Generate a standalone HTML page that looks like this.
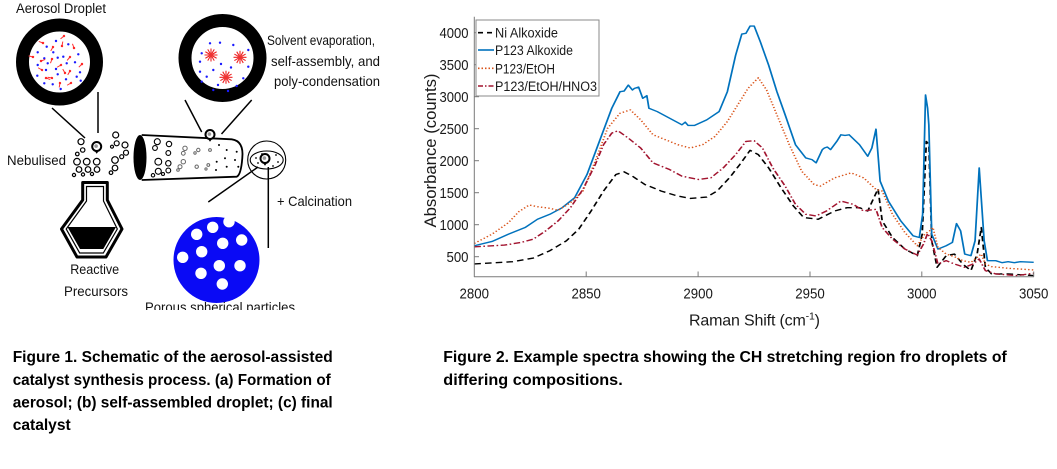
<!DOCTYPE html>
<html>
<head>
<meta charset="utf-8">
<style>
html,body{margin:0;padding:0;background:#fff;}
svg{display:block;}
text{font-family:"Liberation Sans",Arial,sans-serif;}
</style>
</head>
<body>
<svg width="1057" height="469" viewBox="0 0 1057 469" xmlns="http://www.w3.org/2000/svg">
<defs>
  <clipPath id="leftclip"><rect x="0" y="0" width="420" height="310"/></clipPath>
  <clipPath id="plotclip"><rect x="474" y="15" width="562" height="262"/></clipPath>
  <g id="burst">
    <path d="M2,0L6.5,0 M1.73,1L5.63,3.25 M1,1.73L3.25,5.63 M0,2L0,6.5 M-1,1.73L-3.25,5.63 M-1.73,1L-5.63,3.25 M-2,0L-6.5,0 M-1.73,-1L-5.63,-3.25 M-1,-1.73L-3.25,-5.63 M0,-2L0,-6.5 M1,-1.73L3.25,-5.63 M1.73,-1L5.63,-3.25" stroke="#ee2222" stroke-width="1.1" fill="none"/>
    <circle r="2.2" fill="#ee3333"/>
  </g>
  <g id="pin">
    <path d="M-2.6,3.6 L0,7.2 L2.6,3.6 Z" fill="#000"/>
    <circle r="4.5" fill="#fff" stroke="#000" stroke-width="2"/>
    <circle cx="-0.6" cy="-0.4" r="1.8" fill="#999"/>
  </g>
  <g id="tad">
    <line x1="0" y1="0" x2="-4.5" y2="0" stroke="#ff3030" stroke-width="1"/>
    <circle r="1.2" fill="#ff2020"/>
  </g>
</defs>

<rect width="1057" height="469" fill="#fff"/>

<!-- ================= LEFT SCHEMATIC ================= -->
<g clip-path="url(#leftclip)">
  <text x="16" y="13" font-size="13.5" textLength="90" lengthAdjust="spacingAndGlyphs" fill="#111">Aerosol Droplet</text>

  <circle cx="59.5" cy="62" r="37" fill="#fff" stroke="#000" stroke-width="13"/>
  <g fill="#1a1aff">
    <circle cx="56" cy="41" r="1.2"/><circle cx="46.7" cy="46.7" r="1.2"/><circle cx="68.3" cy="44.3" r="1.2"/>
    <circle cx="37.7" cy="52.3" r="1.2"/><circle cx="53.3" cy="52.3" r="1.2"/><circle cx="63.3" cy="56.7" r="1.2"/>
    <circle cx="78.3" cy="54.3" r="1.2"/><circle cx="44.3" cy="58.3" r="1.2"/><circle cx="57.7" cy="57.7" r="1.2"/>
    <circle cx="75" cy="62.3" r="1.2"/><circle cx="37.7" cy="65" r="1.2"/><circle cx="47.7" cy="63.3" r="1.2"/>
    <circle cx="66.7" cy="63.3" r="1.2"/><circle cx="80" cy="72.3" r="1.2"/><circle cx="56" cy="69" r="1.2"/>
    <circle cx="37.3" cy="75.7" r="1.2"/><circle cx="46" cy="70" r="1.2"/><circle cx="57.7" cy="74.3" r="1.2"/>
    <circle cx="66" cy="79.3" r="1.2"/><circle cx="76.7" cy="76.7" r="1.2"/><circle cx="44.3" cy="83.3" r="1.2"/>
    <circle cx="52.7" cy="84.3" r="1.2"/><circle cx="60.7" cy="89" r="1.2"/><circle cx="80.7" cy="80.7" r="1.2"/>
  </g>
  <use href="#tad" transform="translate(64,36) rotate(-40)"/>
  <use href="#tad" transform="translate(43,43) rotate(20)"/>
  <use href="#tad" transform="translate(53,47) rotate(-60)"/>
  <use href="#tad" transform="translate(62,46) rotate(100)"/>
  <use href="#tad" transform="translate(74,48) rotate(70)"/>
  <use href="#tad" transform="translate(82,64) rotate(-45)"/>
  <use href="#tad" transform="translate(33,57) rotate(15)"/>
  <use href="#tad" transform="translate(41,61) rotate(160)"/>
  <use href="#tad" transform="translate(52,59) rotate(-70)"/>
  <use href="#tad" transform="translate(61,65) rotate(-30)"/>
  <use href="#tad" transform="translate(70,57) rotate(-50)"/>
  <use href="#tad" transform="translate(42,70) rotate(30)"/>
  <use href="#tad" transform="translate(52,78) rotate(10)"/>
  <use href="#tad" transform="translate(70,71) rotate(-60)"/>
  <use href="#tad" transform="translate(60,83) rotate(-80)"/>
  <use href="#tad" transform="translate(71,83) rotate(-30)"/>
  <use href="#tad" transform="translate(46,78) rotate(200)"/>
  <use href="#tad" transform="translate(65,73) rotate(60)"/>

  <line x1="52" y1="108" x2="85" y2="138" stroke="#000" stroke-width="1.5"/>
  <line x1="98" y1="92" x2="98" y2="133" stroke="#000" stroke-width="1.5"/>
  <use href="#pin" transform="translate(96.7,146.5)"/>

  <g fill="none" stroke="#000" stroke-width="1.2">
    <circle cx="81" cy="141.7" r="3"/><circle cx="82.7" cy="150" r="2.2"/><circle cx="77.3" cy="154" r="1.8"/>
    <circle cx="77" cy="161.7" r="3.3"/><circle cx="86.7" cy="161.7" r="3.3"/><circle cx="96.7" cy="161.7" r="3.3"/>
    <circle cx="79" cy="169.5" r="2.8"/><circle cx="88" cy="169.5" r="2.8"/><circle cx="97" cy="169.5" r="2.8"/>
    <circle cx="74" cy="175" r="1.6"/><circle cx="83" cy="174.5" r="1.6"/><circle cx="92" cy="174" r="1.6"/>
    <circle cx="115.7" cy="135" r="3"/><circle cx="116.7" cy="143.3" r="2.5"/><circle cx="112" cy="146.7" r="1.5"/>
    <circle cx="125" cy="145" r="3"/><circle cx="126" cy="152.7" r="2.5"/><circle cx="121.7" cy="156.7" r="2"/>
    <circle cx="115" cy="160" r="3.3"/><circle cx="115" cy="168" r="2.8"/><circle cx="111" cy="172.7" r="1.8"/>
  </g>
  <text x="7" y="165" font-size="13.5" textLength="59" lengthAdjust="spacingAndGlyphs" fill="#111">Nebulised</text>

  <path d="M82.7,182.5 L107.3,182.5 L107.3,200 L122,229 L106,257 L77,257 L61.5,229 L82.7,200 Z" fill="#fff" stroke="#000" stroke-width="3" stroke-linejoin="round"/>
  <path d="M86.5,186.5 L103.5,186.5 L103.5,201 L117.3,229 L103.3,253 L79.7,253 L66.2,229 L86.5,201 Z" fill="none" stroke="#000" stroke-width="1.2"/>
  <path d="M67.5,227 L116,227 L103.3,249 L80,249 Z" fill="#000"/>
  <text x="94.7" y="274" font-size="14" text-anchor="middle" textLength="49" lengthAdjust="spacingAndGlyphs" fill="#111">Reactive</text>
  <text x="96" y="296" font-size="14" text-anchor="middle" textLength="64" lengthAdjust="spacingAndGlyphs" fill="#111">Precursors</text>

  <path d="M141.7,135 L231.7,139.3 Q244,141 242.3,158 Q241,175 236.7,176.7 L141.7,180" fill="#fff" stroke="#000" stroke-width="1.8"/>
  <ellipse cx="140" cy="157.5" rx="6.5" ry="22.5" fill="#000"/>
  <g fill="none" stroke="#000" stroke-width="1.1">
    <circle cx="157.3" cy="141.7" r="3"/><circle cx="155" cy="148" r="2.4"/><circle cx="169" cy="144" r="2.7"/>
    <circle cx="168.3" cy="153" r="2.4"/><circle cx="158.3" cy="161.7" r="3.4"/><circle cx="158.3" cy="171.3" r="3"/>
    <circle cx="153" cy="175.3" r="1.7"/><circle cx="168.3" cy="163.3" r="2.7"/><circle cx="168.3" cy="170.5" r="2.4"/>
    <circle cx="163" cy="174" r="1.5"/>
  </g>
  <g fill="none" stroke="#666" stroke-width="1">
    <circle cx="185" cy="148.3" r="2.2"/><circle cx="183.3" cy="153.3" r="1.9"/><circle cx="183.3" cy="161.7" r="2.2"/>
    <circle cx="180" cy="166.7" r="2"/><circle cx="178" cy="170" r="1.3"/><circle cx="198.3" cy="150" r="1.7"/>
    <circle cx="196.7" cy="166.7" r="1.7"/><circle cx="195" cy="153" r="1.2"/><circle cx="210" cy="150" r="1.4"/>
    <circle cx="208.3" cy="165" r="1.4"/><circle cx="206" cy="169" r="1.1"/>
  </g>
  <g fill="#000">
    <circle cx="226.7" cy="150" r="1"/><circle cx="236.7" cy="151.7" r="1"/><circle cx="225" cy="158.3" r="1"/>
    <circle cx="235" cy="160" r="1"/><circle cx="226.7" cy="166.7" r="1"/><circle cx="238.3" cy="166.7" r="1"/>
    <circle cx="216.7" cy="161.7" r="1"/><circle cx="216" cy="170" r="1"/><circle cx="219" cy="145" r="1"/>
  </g>
  <line x1="185" y1="100" x2="201.7" y2="132" stroke="#000" stroke-width="1.5"/>
  <line x1="251.7" y1="100" x2="221.5" y2="134" stroke="#000" stroke-width="1.5"/>
  <use href="#pin" transform="translate(210,134.5)"/>

  <circle cx="222.5" cy="58" r="37.5" fill="#fff" stroke="#000" stroke-width="13"/>
  <g fill="#1a1aff">
    <circle cx="210" cy="43.3" r="1.2"/><circle cx="220" cy="42.7" r="1.2"/><circle cx="233.3" cy="45" r="1.2"/>
    <circle cx="201.7" cy="53.3" r="1.2"/><circle cx="200" cy="61.7" r="1.2"/><circle cx="221" cy="64" r="1.2"/>
    <circle cx="248.3" cy="50" r="1.2"/><circle cx="213.3" cy="70" r="1.2"/><circle cx="231" cy="67.5" r="1.2"/>
    <circle cx="206.7" cy="76.7" r="1.2"/><circle cx="201.7" cy="81.7" r="1.2"/><circle cx="218" cy="85" r="1.2"/>
    <circle cx="236.7" cy="86" r="1.2"/><circle cx="243.3" cy="78.3" r="1.2"/><circle cx="248.3" cy="66.7" r="1.2"/>
    <circle cx="213.3" cy="90" r="1.2"/><circle cx="200" cy="71.7" r="1.2"/><circle cx="228" cy="91" r="1.2"/>
  </g>
  <use href="#burst" transform="translate(211,55)"/>
  <use href="#burst" transform="translate(240,57.3)"/>
  <use href="#burst" transform="translate(226,77.3)"/>

  <text x="267" y="45" font-size="14" textLength="108" lengthAdjust="spacingAndGlyphs" fill="#111">Solvent evaporation,</text>
  <text x="271" y="66" font-size="14" textLength="109" lengthAdjust="spacingAndGlyphs" fill="#111">self-assembly, and</text>
  <text x="274" y="86" font-size="14" textLength="106" lengthAdjust="spacingAndGlyphs" fill="#111">poly-condensation</text>

  <circle cx="266.7" cy="160" r="19" fill="#fff" stroke="#000" stroke-width="1.1"/>
  <ellipse cx="266.7" cy="160" rx="16.5" ry="9" fill="none" stroke="#000" stroke-width="1.1"/>
  <g fill="#000">
    <circle cx="256" cy="158" r="0.9"/><circle cx="258" cy="163" r="0.9"/><circle cx="276" cy="155" r="0.9"/>
    <circle cx="278" cy="162" r="0.9"/><circle cx="273" cy="166" r="0.9"/><circle cx="262" cy="154" r="0.9"/>
  </g>
  <use href="#pin" transform="translate(265,158.5)"/>
  <line x1="208.3" y1="202" x2="258" y2="167" stroke="#000" stroke-width="1.5"/>
  <line x1="268.3" y1="167" x2="268.3" y2="248" stroke="#000" stroke-width="1.5"/>
  <text x="277" y="206" font-size="14" textLength="75" lengthAdjust="spacingAndGlyphs" fill="#111">+ Calcination</text>

  <circle cx="216.5" cy="260" r="43" fill="#0a0af5"/>
  <g fill="#fff">
    <circle cx="229" cy="221.7" r="5.7"/><circle cx="212.7" cy="227.3" r="5.7"/><circle cx="196.7" cy="234.3" r="5.7"/>
    <circle cx="241.7" cy="240" r="5.7"/><circle cx="222.7" cy="243.3" r="5.7"/><circle cx="201.7" cy="251.7" r="5.7"/>
    <circle cx="182.7" cy="257.3" r="5.7"/><circle cx="240" cy="265.7" r="5.7"/><circle cx="219.3" cy="265.7" r="5.7"/>
    <circle cx="201" cy="273.3" r="5.7"/><circle cx="222.3" cy="284" r="5.7"/>
  </g>
  <text x="145" y="312" font-size="14" textLength="150" lengthAdjust="spacingAndGlyphs" fill="#111">Porous spherical particles</text>
</g>

<!-- ================= CHART ================= -->
<g clip-path="url(#plotclip)">
  <g transform="matrix(0.41284 0 0 0.33136 409.48 2.215)" fill="none" stroke-linejoin="round">
    <path stroke="#000" stroke-width="4.2" stroke-dasharray="16 10" d="M157,790 L250,783 L300,772 L340,750 L380,720 L410,685 L440,630 L470,570 L500,520 L520,512 L540,525 L570,550 L610,570 L650,585 L680,592 L720,588 L745,570 L775,530 L800,490 L825,447 L845,460 L870,500 L900,560 L930,615 L955,650 L990,655 L1030,630 L1060,620 L1090,620 L1110,630 L1125,590 L1135,563 L1145,660 L1170,710 L1200,745 L1230,765 L1242,700 L1252,420 L1258,430 L1265,720 L1278,800 L1300,765 L1320,760 L1340,790 L1360,810 L1375,760 L1385,680 L1395,800 L1410,820 L1450,820 L1512,825"/>
    <path stroke="#0072BD" stroke-width="4.2" d="M157,735 L200,722 L240,700 L280,680 L310,655 L340,640 L370,620 L400,590 L430,520 L460,420 L490,320 L510,270 L520,268 L530,250 L540,265 L545,260 L555,256 L565,290 L575,282 L580,320 L600,330 L630,350 L660,370 L668,362 L675,372 L690,372 L720,355 L750,330 L770,270 L790,160 L805,96 L815,94 L825,72 L835,72 L850,120 L870,190 L890,270 L910,340 L935,430 L960,470 L975,475 L985,485 L1000,445 L1005,440 L1012,437 L1020,445 L1035,420 L1045,400 L1055,402 L1065,400 L1090,430 L1110,465 L1120,440 L1130,383 L1140,540 L1160,600 L1190,660 L1220,705 L1235,710 L1243,640 L1250,280 L1255,320 L1258,370 L1265,700 L1280,745 L1300,735 L1315,725 L1325,668 L1335,690 L1345,760 L1360,765 L1370,720 L1380,500 L1392,720 L1400,780 L1420,780 L1435,786 L1450,783 L1465,786 L1480,783 L1512,785"/>
    <path stroke="#D95319" stroke-width="4.2" stroke-dasharray="3.5 5.5" d="M157,728 L200,700 L240,665 L265,632 L290,612 L310,617 L340,622 L360,628 L390,605 L420,570 L450,480 L480,380 L510,335 L535,325 L560,355 L590,400 L620,415 L650,430 L680,440 L710,430 L740,405 L770,360 L800,300 L820,260 L845,228 L865,265 L890,340 L920,430 L950,510 L980,550 L995,555 L1030,530 L1070,515 L1100,530 L1130,565 L1145,570 L1170,640 L1200,695 L1230,735 L1248,700 L1260,690 L1268,680 L1280,740 L1300,760 L1320,768 L1340,780 L1360,785 L1385,760 L1395,790 L1410,798 L1450,803 L1512,808"/>
    <path stroke="#A2142F" stroke-width="4.2" stroke-dasharray="16 6 4 6" d="M157,738 L230,733 L270,725 L300,715 L330,690 L360,660 L390,620 L420,565 L450,490 L470,430 L490,395 L505,388 L530,410 L560,440 L590,485 L630,505 L660,525 L700,535 L730,530 L760,500 L790,460 L815,420 L835,418 L855,440 L880,500 L910,555 L935,610 L960,640 L985,645 L1010,630 L1045,600 L1075,610 L1100,630 L1130,625 L1145,680 L1170,715 L1200,745 L1230,763 L1245,730 L1255,698 L1265,720 L1280,790 L1300,780 L1320,790 L1345,800 L1365,790 L1380,775 L1395,810 L1420,820 L1470,825 L1512,818"/>
  </g>
</g>

<g stroke="#7a7a7a" stroke-width="1" fill="none">
  <line x1="474.3" y1="16.7" x2="474.3" y2="277"/>
  <line x1="474" y1="276.7" x2="1034" y2="276.7"/>
  <line x1="474.3" y1="32.7" x2="479" y2="32.7"/>
  <line x1="474.3" y1="64.7" x2="479" y2="64.7"/>
  <line x1="474.3" y1="96.7" x2="479" y2="96.7"/>
  <line x1="474.3" y1="128.7" x2="479" y2="128.7"/>
  <line x1="474.3" y1="160.7" x2="479" y2="160.7"/>
  <line x1="474.3" y1="192.7" x2="479" y2="192.7"/>
  <line x1="474.3" y1="224.7" x2="479" y2="224.7"/>
  <line x1="474.3" y1="256.7" x2="479" y2="256.7"/>
  <line x1="586.2" y1="276.7" x2="586.2" y2="271.5"/>
  <line x1="698.1" y1="276.7" x2="698.1" y2="271.5"/>
  <line x1="810" y1="276.7" x2="810" y2="271.5"/>
  <line x1="921.8" y1="276.7" x2="921.8" y2="271.5"/>
  <line x1="1033.7" y1="276.7" x2="1033.7" y2="271.5"/>
</g>

<g font-size="15" fill="#1a1a1a" text-anchor="end">
  <text x="468.5" y="38" textLength="29" lengthAdjust="spacingAndGlyphs">4000</text>
  <text x="468.5" y="70" textLength="29" lengthAdjust="spacingAndGlyphs">3500</text>
  <text x="468.5" y="102" textLength="29" lengthAdjust="spacingAndGlyphs">3000</text>
  <text x="468.5" y="134" textLength="29" lengthAdjust="spacingAndGlyphs">2500</text>
  <text x="468.5" y="166" textLength="29" lengthAdjust="spacingAndGlyphs">2000</text>
  <text x="468.5" y="198" textLength="29" lengthAdjust="spacingAndGlyphs">1500</text>
  <text x="468.5" y="230" textLength="29" lengthAdjust="spacingAndGlyphs">1000</text>
  <text x="468.5" y="262" textLength="22" lengthAdjust="spacingAndGlyphs">500</text>
</g>
<g font-size="15" fill="#1a1a1a" text-anchor="middle">
  <text x="474.3" y="298.5" textLength="29.5" lengthAdjust="spacingAndGlyphs">2800</text>
  <text x="586.2" y="298.5" textLength="29.5" lengthAdjust="spacingAndGlyphs">2850</text>
  <text x="698.1" y="298.5" textLength="29.5" lengthAdjust="spacingAndGlyphs">2900</text>
  <text x="810" y="298.5" textLength="29.5" lengthAdjust="spacingAndGlyphs">2950</text>
  <text x="921.8" y="298.5" textLength="29.5" lengthAdjust="spacingAndGlyphs">3000</text>
  <text x="1033.7" y="298.5" textLength="29.5" lengthAdjust="spacingAndGlyphs">3050</text>
</g>

<text transform="translate(436,150.5) rotate(-90)" font-size="17" text-anchor="middle" textLength="154" lengthAdjust="spacingAndGlyphs" fill="#1a1a1a">Absorbance (counts)</text>
<text x="689" y="325.5" font-size="16" textLength="131" fill="#1a1a1a">Raman Shift (cm<tspan font-size="10.5" dy="-6">-1</tspan><tspan dy="6">)</tspan></text>

<rect x="476" y="20" width="123" height="76" fill="#fff" stroke="#8a8a8a" stroke-width="1"/>
<g stroke-width="1.6" fill="none">
  <line x1="478" y1="32.7" x2="494" y2="32.7" stroke="#000" stroke-dasharray="5 4"/>
  <line x1="478" y1="50" x2="494" y2="50" stroke="#0072BD"/>
  <line x1="478" y1="68.3" x2="494" y2="68.3" stroke="#D95319" stroke-dasharray="1.5 2"/>
  <line x1="478" y1="86" x2="494" y2="86" stroke="#A2142F" stroke-dasharray="5 2 1.5 2"/>
</g>
<g font-size="13.5" fill="#1a1a1a">
  <text x="495" y="37.7" textLength="63" lengthAdjust="spacingAndGlyphs">Ni Alkoxide</text>
  <text x="495" y="55" textLength="78" lengthAdjust="spacingAndGlyphs">P123 Alkoxide</text>
  <text x="495" y="73.3" textLength="60" lengthAdjust="spacingAndGlyphs">P123/EtOH</text>
  <text x="495" y="91" textLength="102" lengthAdjust="spacingAndGlyphs">P123/EtOH/HNO3</text>
</g>

<g font-size="16" font-weight="bold" fill="#000">
  <text x="12.7" y="362" textLength="320" lengthAdjust="spacingAndGlyphs">Figure 1. Schematic of the aerosol-assisted</text>
  <text x="12.7" y="385" textLength="318" lengthAdjust="spacingAndGlyphs">catalyst synthesis process. (a) Formation of</text>
  <text x="12.7" y="407.5" textLength="320" lengthAdjust="spacingAndGlyphs">aerosol; (b) self-assembled droplet; (c) final</text>
  <text x="12.7" y="430" textLength="58" lengthAdjust="spacingAndGlyphs">catalyst</text>

  <text x="443.3" y="362" textLength="563.4" lengthAdjust="spacingAndGlyphs">Figure 2. Example spectra showing the CH stretching region fro droplets of</text>
  <text x="443.3" y="385" textLength="179.4" lengthAdjust="spacingAndGlyphs">differing compositions.</text>
</g>
</svg>
</body>
</html>
